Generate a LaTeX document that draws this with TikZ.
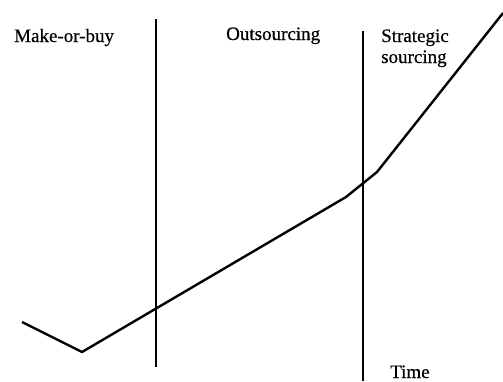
\documentclass[tikz,border=0pt]{standalone}
\usepackage{fontspec}
\setmainfont{Liberation Serif}
\newfontfamily\heavyserif{Liberation Serif}[FakeBold=0.5]
\tikzset{
  phase/.style={inner sep=0pt, anchor=base west, align=left,
                font=\heavyserif\fontsize{19}{21}\selectfont},
  border/.style={black, line width=2pt},
  trend/.style={black, line width=2.4pt, line join=miter}
}
\begin{document}
\begin{tikzpicture}[x=1pt, y=-1pt]
  \useasboundingbox (0,0) rectangle (503,381);
  % phase borders
  \draw[border] (156,19) -- (156,367);
  \draw[border] (363,31) -- (363,381);

  % the sourcing curve
  \coordinate (start) at (22,322);
  \coordinate (low) at (82,352);
  \coordinate (bend) at (346,197);
  \coordinate (knee) at (377,172);
  \coordinate (top) at (503,13);
  \draw[trend] (start) -- (low) -- (bend) -- (knee) -- (top);

  % phase labels
  \node[phase] (make) at (14,42) {Make-or-buy};
  \node[phase] (out) at (226,40) {Outsourcing};
  \node[phase] (strat) at (381,63) {Strategic\\sourcing};
  \node[phase] (time) at (390,378) {Time};
\end{tikzpicture}
\end{document}
